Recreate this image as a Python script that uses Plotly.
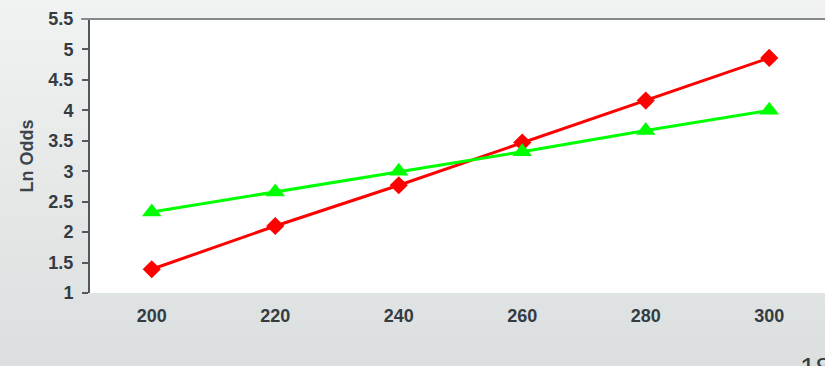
import plotly.graph_objects as go

# Scores on the horizontal axis
scores = [200, 220, 240, 260, 280, 300]
# Natural log of the odds for the two models
ln_odds_red = [1.39, 2.10, 2.77, 3.47, 4.16, 4.86]
ln_odds_green = [2.33, 2.66, 3.00, 3.32, 3.67, 4.00]
# Y tick labels
y_ticks = [1, 1.5, 2, 2.5, 3, 3.5, 4, 4.5, 5, 5.5]
y_tick_text = ["1", "1.5", "2", "2.5", "3", "3.5", "4", "4.5", "5", "5.5"]
# Category boundaries carrying the x tick marks
x_bounds = [190, 210, 230, 250, 270, 290, 310]

W, H = 825, 366
L, R, T, B = 90, 0, 19, 73
TXT = "#343c42"
FONT = "Liberation Sans"

fig = go.Figure()
fig.add_trace(go.Scatter(
    x=scores, y=ln_odds_red, mode="lines+markers",
    line=dict(color="#ff0000", width=3),
    marker=dict(symbol="diamond", size=14, color="#ff0000"),
    showlegend=False, xaxis="x2",
))
fig.add_trace(go.Scatter(
    x=scores, y=ln_odds_green, mode="lines+markers",
    line=dict(color="#00ff00", width=3),
    marker=dict(symbol="triangle-up", size=17, color="#00ff00"),
    showlegend=False, xaxis="x2",
))

# Soft vertical gradient behind the chart, then the white plot area
shapes = []
n = 40
ph = H - T - B
for i in range(n):
    p0 = i * H / n
    p1 = (i + 1) * H / n
    t = (i + 0.5) / n
    r = round(241 + (220 - 241) * t)
    g = round(242 + (223 - 242) * t)
    b = round(242 + (223 - 242) * t)
    shapes.append(dict(
        type="rect", xref="paper", yref="paper",
        x0=-L / (W - L - R), x1=1.01,
        y0=(H - B - p1) / ph, y1=(H - B - p0) / ph + 0.002,
        fillcolor=f"rgb({r},{g},{b})", line=dict(width=0), layer="below",
    ))
shapes.append(dict(type="rect", xref="paper", yref="paper", x0=0, x1=1.01, y0=0, y1=1,
                   fillcolor="white", line=dict(width=0), layer="below"))
# top frame line
shapes.append(dict(type="line", xref="paper", yref="paper", x0=-0.012, x1=1.01, y0=1, y1=1,
                   line=dict(color="#85898c", width=2)))

x_range = [190, 190 + (W - L - R) / (123.5 / 20)]

fig.update_layout(
    width=W, height=H,
    margin=dict(l=L, r=R, t=T, b=B),
    paper_bgcolor="#e6e8e8", plot_bgcolor="rgba(0,0,0,0)",
    font=dict(family=FONT, color=TXT, size=18),
    shapes=shapes,
    xaxis=dict(
        range=x_range, tickvals=x_bounds, showticklabels=False,
        ticks="outside", ticklen=6, tickwidth=1, tickcolor="#6b7378",
        showline=True, linecolor="#7a8084", linewidth=2,
        showgrid=False, zeroline=False,
        title=dict(text="<b>Score</b>", standoff=0, font=dict(size=18, color=TXT)),
    ),
    xaxis2=dict(
        overlaying="x", side="bottom", range=x_range,
        tickvals=scores, ticktext=[f"<b>{s}</b>" for s in scores],
        ticks="", showline=False, showgrid=False, zeroline=False,
        tickfont=dict(size=18, color=TXT), ticklabelstandoff=10,
    ),
    yaxis=dict(
        range=[1, 5.5], tickvals=y_ticks, ticktext=[f"<b>{t}</b>" for t in y_tick_text],
        ticks="outside", ticklen=6, tickwidth=2, tickcolor="#505a60",
        showline=True, linecolor="#4f575c", linewidth=2,
        showgrid=False, zeroline=False,
        tickfont=dict(size=18, color=TXT), ticklabelstandoff=5,
        title=dict(text="<b>Ln Odds</b>", standoff=10, font=dict(size=18, color="#3c454b")),
    ),
    annotations=[dict(
        text="18", xref="paper", yref="paper", x=(798 - L) / (W - L - R), y=(H - B - 350) / ph,
        xanchor="left", yanchor="top", showarrow=False,
        font=dict(size=28, color=TXT, family=FONT),
    )],
)

fig.write_html("out.html")
